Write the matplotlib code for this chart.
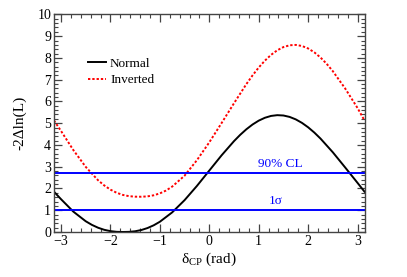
import numpy as np
import matplotlib
matplotlib.use('Agg')
from matplotlib import pyplot as plt
from matplotlib.ticker import MultipleLocator

plt.rcParams['font.family'] = ['Liberation Serif', 'DejaVu Serif']
plt.rcParams['mathtext.fontset'] = 'custom'
plt.rcParams['mathtext.rm'] = 'Liberation Serif'
plt.rcParams['mathtext.it'] = 'Liberation Serif'

# delta_CP (rad) and -2 Delta ln(L) for normal hierarchy
delta_n = [-np.pi, -3.0, -2.75, -2.5, -2.375, -2.25, -2.125, -2.0, -1.875, -1.75,
           -1.625, -1.5, -1.375, -1.25, -1.125, -1.0, -0.75, -0.5, -0.25, 0.0,
           0.25, 0.5, 0.625, 0.75, 0.875, 1.0, 1.125, 1.25, 1.375, 1.5,
           1.625, 1.75, 1.875, 2.0, 2.125, 2.25, 2.5, 2.75, 3.0, np.pi]
normal = [1.85, 1.508, 0.935, 0.494, 0.327, 0.196, 0.100, 0.039, 0.008, 0.0,
          0.006, 0.033, 0.090, 0.181, 0.307, 0.470, 0.903, 1.463, 2.117, 2.822,
          3.526, 4.175, 4.464, 4.720, 4.939, 5.117, 5.249, 5.334, 5.369, 5.354,
          5.289, 5.175, 5.015, 4.812, 4.570, 4.294, 3.662, 2.964, 2.256, 1.85]

# inverted hierarchy
delta_i = [-np.pi, -3.0, -2.75, -2.5, -2.25, -2.125, -2.0, -1.875, -1.75, -1.625,
           -1.5, -1.375, -1.25, -1.125, -1.0, -0.875, -0.75, -0.5, -0.25, 0.0,
           0.25, 0.5, 0.75, 0.875, 1.0, 1.125, 1.25, 1.375, 1.5, 1.625,
           1.75, 1.875, 2.0, 2.125, 2.25, 2.375, 2.5, 2.75, 3.0, np.pi]
inverted = [5.12, 4.644, 3.764, 2.992, 2.377, 2.139, 1.947, 1.803, 1.704, 1.646,
            1.623, 1.620, 1.637, 1.686, 1.774, 1.905, 2.088, 2.587, 3.30, 4.12,
            5.01, 5.917, 6.796, 7.196, 7.558, 7.875, 8.141, 8.350, 8.498, 8.581,
            8.598, 8.549, 8.435, 8.257, 8.020, 7.729, 7.390, 6.593, 5.696, 5.12]

cl_levels = [2.71, 1.0]
cl_labels = ['90% CL', '1σ']
cl_label_pos = [(1.44, 2.84), (1.34, 1.14)]

fig = plt.figure(figsize=(4.07, 2.77), dpi=100)
ax = fig.add_axes([0.1327, 0.1625, 0.763, 0.7855])

ax.plot(delta_n, normal, '-', color='black', lw=1.4, label='Normal')
ax.plot(delta_i, inverted, color='red', lw=1.4, dashes=(1.2, 1.0), label='Inverted')
for lev, lab, pos in zip(cl_levels, cl_labels, cl_label_pos):
    ax.axhline(lev, color='blue', lw=1.4)
    ax.text(pos[0], pos[1], lab, color='blue', fontsize=9.5, ha='center', va='bottom')

ax.set_xlim(-np.pi, np.pi)
ax.set_ylim(0, 10)
ax.xaxis.set_major_locator(MultipleLocator(1))
ax.xaxis.set_minor_locator(MultipleLocator(0.2))
ax.yaxis.set_major_locator(MultipleLocator(1))
ax.yaxis.set_minor_locator(MultipleLocator(0.2))
ax.tick_params(which='both', direction='in', top=True, right=True, labelsize=10, color='#444444')
ax.tick_params(which='major', length=6, width=0.9, pad=2)
ax.tick_params(which='minor', length=3, width=0.8)
for s in ax.spines.values():
    s.set_color('#444444')
    s.set_linewidth(1.0)

ax.set_xlabel(r'$\mathregular{\delta_{CP}}$ (rad)', fontsize=11, labelpad=2)
ax.set_ylabel('-2Δln(L)', fontsize=11, labelpad=8)

ax.legend(loc='upper left', bbox_to_anchor=(0.07, 0.855), frameon=False, fontsize=9.5,
          handlelength=1.4, handletextpad=0.3, labelspacing=0.3)

fig.savefig('out.png', dpi=100)
